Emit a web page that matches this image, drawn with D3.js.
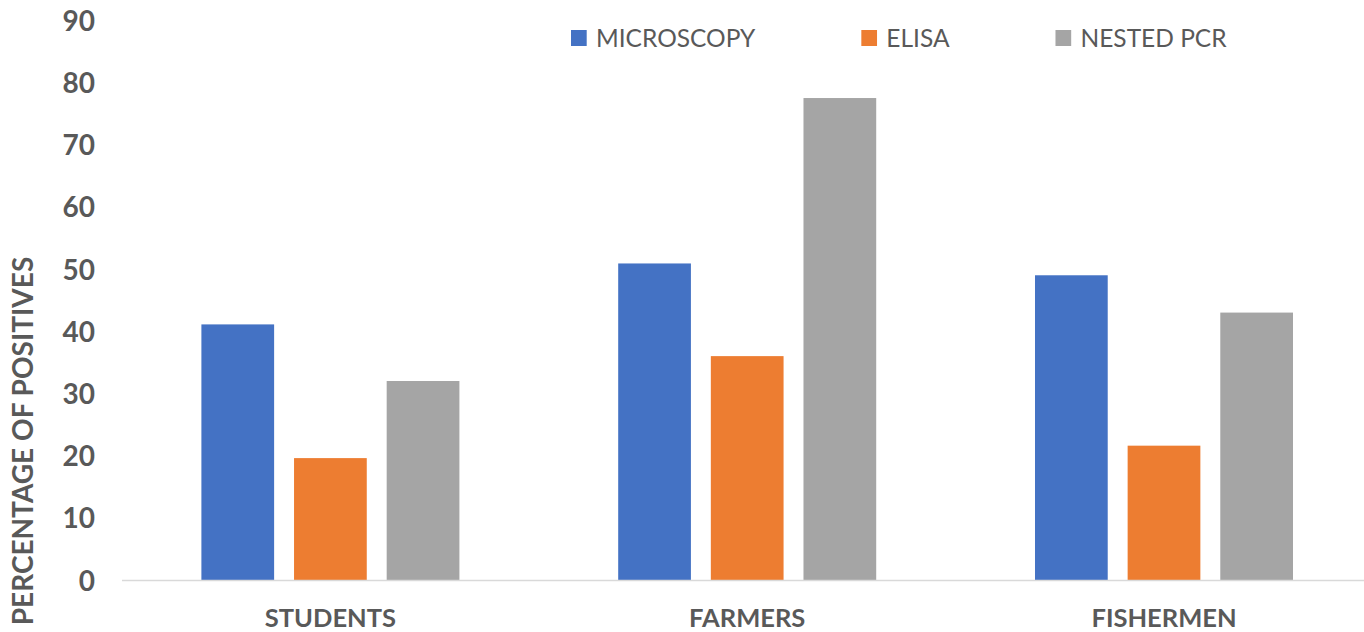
<!DOCTYPE html>
<html>
<head>
<meta charset="utf-8">
<script src="https://cdn.jsdelivr.net/npm/d3@7"></script>
<style>
  html, body { margin: 0; padding: 0; background: #fff; }
  svg { display: block; }
</style>
</head>
<body>
<svg id="chart" width="1364" height="632"></svg>
<script>
// ---- data ----
const categories = ["STUDENTS", "FARMERS", "FISHERMEN"];
const seriesNames = ["MICROSCOPY", "ELISA", "NESTED PCR"];
const microscopy = [41.1, 50.9, 49.0];
const elisa = [19.6, 36.0, 21.6];
const nestedPcr = [32.0, 77.5, 43.0];
const yTicks = [0, 10, 20, 30, 40, 50, 60, 70, 80, 90];
const yTitle = "PERCENTAGE OF POSITIVES";

const seriesValues = [microscopy, elisa, nestedPcr];
const colors = ["#4472C4", "#ED7D31", "#A5A5A5"];
const textColor = "#595959";
const fontFam = "Lato, 'Open Sans', sans-serif";

const svg = d3.select("#chart");
const W = 1364, H = 632;
const plotLeft = 122, plotBottom = 580, plotTop = 20.3;
const catStep = 416.8;

const x0 = d3.scaleBand().domain(categories)
  .range([plotLeft, plotLeft + catStep * categories.length])
  .paddingInner(0).paddingOuter(0);
const x1 = d3.scaleBand().domain(seriesNames)
  .range([0, x0.bandwidth()])
  .paddingInner(0.215).paddingOuter(0.857);
const y = d3.scaleLinear().domain([0, 90]).range([plotBottom, plotTop]);

// bars
const groups = svg.append("g").selectAll("g")
  .data(categories)
  .join("g")
  .attr("transform", d => `translate(${x0(d)},0)`);

groups.selectAll("rect")
  .data((c, ci) => seriesNames.map((s, si) => ({ s, si, v: seriesValues[si][ci] })))
  .join("rect")
  .attr("x", d => x1(d.s))
  .attr("width", x1.bandwidth())
  .attr("y", d => y(d.v))
  .attr("height", d => y(0) - y(d.v))
  .attr("fill", d => colors[d.si]);

// x axis line
svg.append("line")
  .attr("x1", plotLeft).attr("x2", W)
  .attr("y1", plotBottom + 0.5).attr("y2", plotBottom + 0.5)
  .attr("stroke", "#D9D9D9").attr("stroke-width", 1.5);

// y tick labels
const yAxis = d3.axisLeft(y).tickValues(yTicks).tickSize(0).tickPadding(0);
const yg = svg.append("g").attr("transform", `translate(95,0)`).call(yAxis);
yg.select(".domain").remove();
yg.selectAll("text")
  .attr("fill", textColor)
  .attr("font-family", fontFam)
  .attr("font-weight", "bold")
  .attr("font-size", 28)
  .attr("dy", "0.36em");

// x category labels
const xAxis = d3.axisBottom(x0).tickSize(0).tickPadding(0);
const xg = svg.append("g").call(xAxis);
xg.select(".domain").remove();
xg.selectAll("text")
  .attr("fill", textColor)
  .attr("font-family", fontFam)
  .attr("font-weight", "bold")
  .attr("font-size", 25.5)
  .attr("y", 627)
  .attr("dy", 0);

// y title
svg.append("text")
  .attr("transform", `translate(33,441) rotate(-90)`)
  .attr("text-anchor", "middle")
  .attr("fill", textColor)
  .attr("font-family", fontFam)
  .attr("font-weight", "bold")
  .attr("font-size", 28)
  .text(yTitle);

// legend
const legend = svg.append("g");
let lx = 571;
seriesNames.forEach((name, i) => {
  legend.append("rect")
    .attr("x", lx).attr("y", 30)
    .attr("width", 15.7).attr("height", 16)
    .attr("fill", colors[i]);
  const t = legend.append("text")
    .attr("x", lx + 25).attr("y", 46.7)
    .attr("fill", textColor)
    .attr("font-family", fontFam)
    .attr("font-size", 24.5)
    .text(name);
  const tw = t.node().getComputedTextLength();
  lx += 25 + tw + 106;
});
</script>
</body>
</html>
